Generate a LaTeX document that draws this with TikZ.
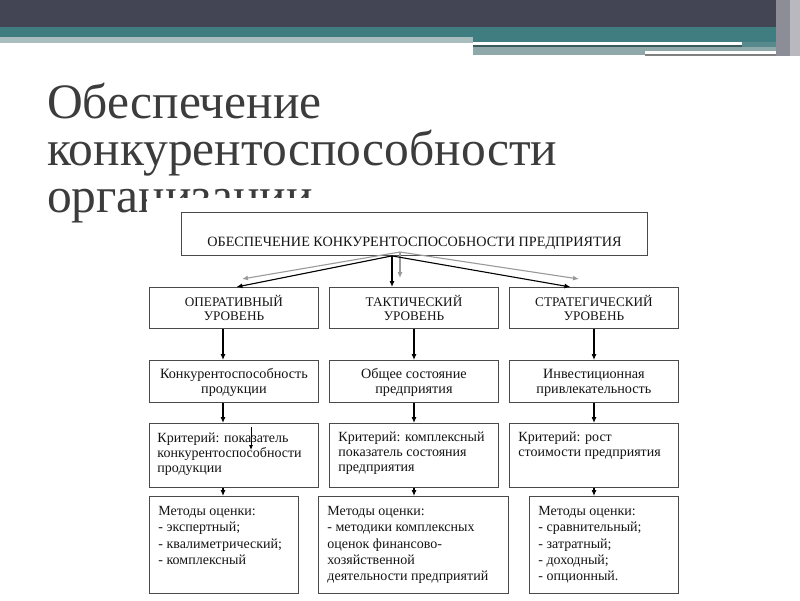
\documentclass[tikz,border=0pt]{standalone}
\usepackage{fontspec}
\setmainfont{Liberation Serif}
\usetikzlibrary{arrows.meta,calc}
\definecolor{bannerdark}{HTML}{444554}
\definecolor{bannerteal}{HTML}{407D80}
\definecolor{stripgray}{HTML}{A9BDBE}
\definecolor{stripteal}{HTML}{8FA8AA}
\definecolor{edgegray}{HTML}{8C8D96}
\definecolor{edgelight}{HTML}{B8B8BE}
\definecolor{lineteal}{HTML}{3D5A5B}
\definecolor{titlegray}{HTML}{3C3C3C}
\definecolor{boxline}{HTML}{4A4A4A}
\definecolor{arrgray}{HTML}{9A9A9A}
\definecolor{textc}{HTML}{141414}
\newcommand{\bxtop}[5]{\parbox[c][#1][t]{#2}{\vspace*{#3}#4#5}}
\begin{document}
\begin{tikzpicture}[x=1pt,y=-1pt,
  bx/.style={draw=boxline,line width=0.9pt,inner sep=0pt,anchor=north west,text=textc},
  topf/.style={font=\fontsize{14.2}{16}\selectfont},
  capsf/.style={font=\fontsize{13.2}{14}\selectfont},
  rowf/.style={font=\fontsize{14.2}{15}\selectfont},
  rowfc/.style={font=\fontsize{14}{15}\selectfont},
  rowfb/.style={font=\fontsize{14}{16.2}\selectfont},
  arr/.style={line width=1.1pt,draw=black,-{Latex[length=6pt,width=5pt]}},
  garr/.style={line width=1.1pt,draw=arrgray,-{Latex[length=6pt,width=5pt]}},
  ttl/.style={anchor=base west,inner sep=0pt,text=titlegray,font=\fontsize{49.5}{49.5}\selectfont}
]
\useasboundingbox (0,0) rectangle (800,600);
\fill[white] (0,0) rectangle (800,600);
% banner
\fill[bannerdark] (0,0) rectangle (800,27);
\fill[bannerteal] (0,27) rectangle (473,37);
\fill[stripgray] (0,37) rectangle (473,43);
\fill[bannerteal] (473,27) rectangle (800,42);
\fill[white] (473,42) rectangle (742,45);
\fill[lineteal] (473,45) rectangle (742,47);
\fill[bannerteal!70!stripteal] (742,42) rectangle (800,47);
\fill[stripteal] (473,47) rectangle (800,55);
\fill[white] (645,51) rectangle (785,54);
\fill[gray] (645,54) rectangle (785,56);
\fill[edgegray] (776,0) rectangle (790,56);
\fill[edgelight] (790,0) rectangle (800,56);
% title
\node[ttl] (t1) at (47,118) {Обеспечение};
\node[ttl] (t2) at (47,165) {конкурентоспособности};
\node[ttl] (t3) at (47,212) {организации};
% embedded picture background
\fill[white] (147,198) rectangle (688,600);
% axis x positions
\coordinate (ax1) at (223,0);
\coordinate (ax2) at (414,0);
\coordinate (ax3) at (594,0);
% top box
\node[bx,topf] (top) at (181,212) {\bxtop{43pt}{466pt}{22.5pt}{\centering\strut}{ОБЕСПЕЧЕНИЕ КОНКУРЕНТОСПОСОБНОСТИ ПРЕДПРИЯТИЯ}};
% level boxes
\node[bx,capsf] (lv1) at (149,287) {\bxtop{41pt}{169pt}{7.5pt}{\centering\strut}{ОПЕРАТИВНЫЙ\\УРОВЕНЬ}};
\node[bx,capsf] (lv2) at (329,287) {\bxtop{41pt}{169pt}{7.5pt}{\centering\strut}{ТАКТИЧЕСКИЙ\\УРОВЕНЬ}};
\node[bx,capsf] (lv3) at (509,287) {\bxtop{41pt}{169pt}{7.5pt}{\centering\strut}{СТРАТЕГИЧЕСКИЙ\\УРОВЕНЬ}};
% row 2
\node[bx,rowf] (r2a) at (149,360) {\bxtop{42pt}{169pt}{7.8pt}{\centering\strut}{Конкурентоспособность\\продукции}};
\node[bx,rowf] (r2b) at (329,360) {\bxtop{42pt}{169pt}{7.8pt}{\centering\strut}{Общее состояние\\предприятия}};
\node[bx,rowf] (r2c) at (509,360) {\bxtop{42pt}{169pt}{7.8pt}{\centering\strut}{Инвестиционная\\привлекательность}};
% row 3
\node[bx,rowfc] (r3a) at (149,423) {\bxtop{64pt}{169pt}{8.8pt}{\raggedright\leftskip=8pt\strut}{Критерий: показатель\\конкурентоспособности\\продукции}};
\node[bx,rowfc] (r3b) at (329,423) {\bxtop{64pt}{169pt}{7.7pt}{\raggedright\leftskip=9pt\strut}{Критерий: комплексный\\показатель состояния\\предприятия}};
\node[bx,rowfc] (r3c) at (509,423) {\bxtop{64pt}{169pt}{7.7pt}{\raggedright\leftskip=9pt\strut}{Критерий: рост\\стоимости предприятия}};
% row 4
\node[bx,rowfb] (r4a) at (149,496) {\bxtop{97pt}{149pt}{7.9pt}{\raggedright\leftskip=9pt\strut}{Методы оценки:\\- экспертный;\\- квалиметрический;\\- комплексный}};
\node[bx,rowfb] (r4b) at (318,496) {\bxtop{97pt}{190pt}{7.9pt}{\raggedright\leftskip=9pt\strut}{Методы оценки:\\- методики комплексных\\оценок финансово-\\хозяйственной\\деятельности предприятий}};
\node[bx,rowfb] (r4c) at (529,496) {\bxtop{97pt}{149pt}{7.9pt}{\raggedright\leftskip=9pt\strut}{Методы оценки:\\- сравнительный;\\- затратный;\\- доходный;\\- опционный.}};
% connectors from the top box
\coordinate (gsrc) at (400,252);
\coordinate (g1) at (242,279);
\coordinate (g2) at (400,278);
\coordinate (g3) at (579,279);
\coordinate (bsx) at (392,0);
\draw[garr] (gsrc) -- (g1);
\draw[garr] (gsrc) -- (g2);
\draw[garr] (gsrc) -- (g3);
\draw[arr] (top.south -| bsx) -- ([xshift=2.5pt]lv1.north);
\draw[arr] (top.south -| bsx) -- (lv2.north -| bsx);
\draw[arr] (top.south -| bsx) -- ([xshift=-23.5pt]lv3.north);
% vertical connectors
\draw[arr] (lv1.south -| ax1) -- (r2a.north -| ax1);
\draw[arr] (lv2.south -| ax2) -- (r2b.north -| ax2);
\draw[arr] (lv3.south -| ax3) -- (r2c.north -| ax3);
\draw[arr] (r2a.south -| ax1) -- (r3a.north -| ax1);
\draw[arr] (r2b.south -| ax2) -- (r3b.north -| ax2);
\draw[arr] (r2c.south -| ax3) -- (r3c.north -| ax3);
\draw[arr] (r3a.south -| ax1) -- (r4a.north -| ax1);
\draw[arr] (r3b.south -| ax2) -- (r4b.north -| ax2);
\draw[arr] (r3c.south -| ax3) -- (r4c.north -| ax3);
% stray arrow inside the left criterion box
\coordinate (s1) at (251,427);
\coordinate (s2) at (251,450);
\draw[line width=0.8pt,-{Latex[length=5pt,width=4pt]}] (s1) -- (s2);
\end{tikzpicture}
\end{document}
